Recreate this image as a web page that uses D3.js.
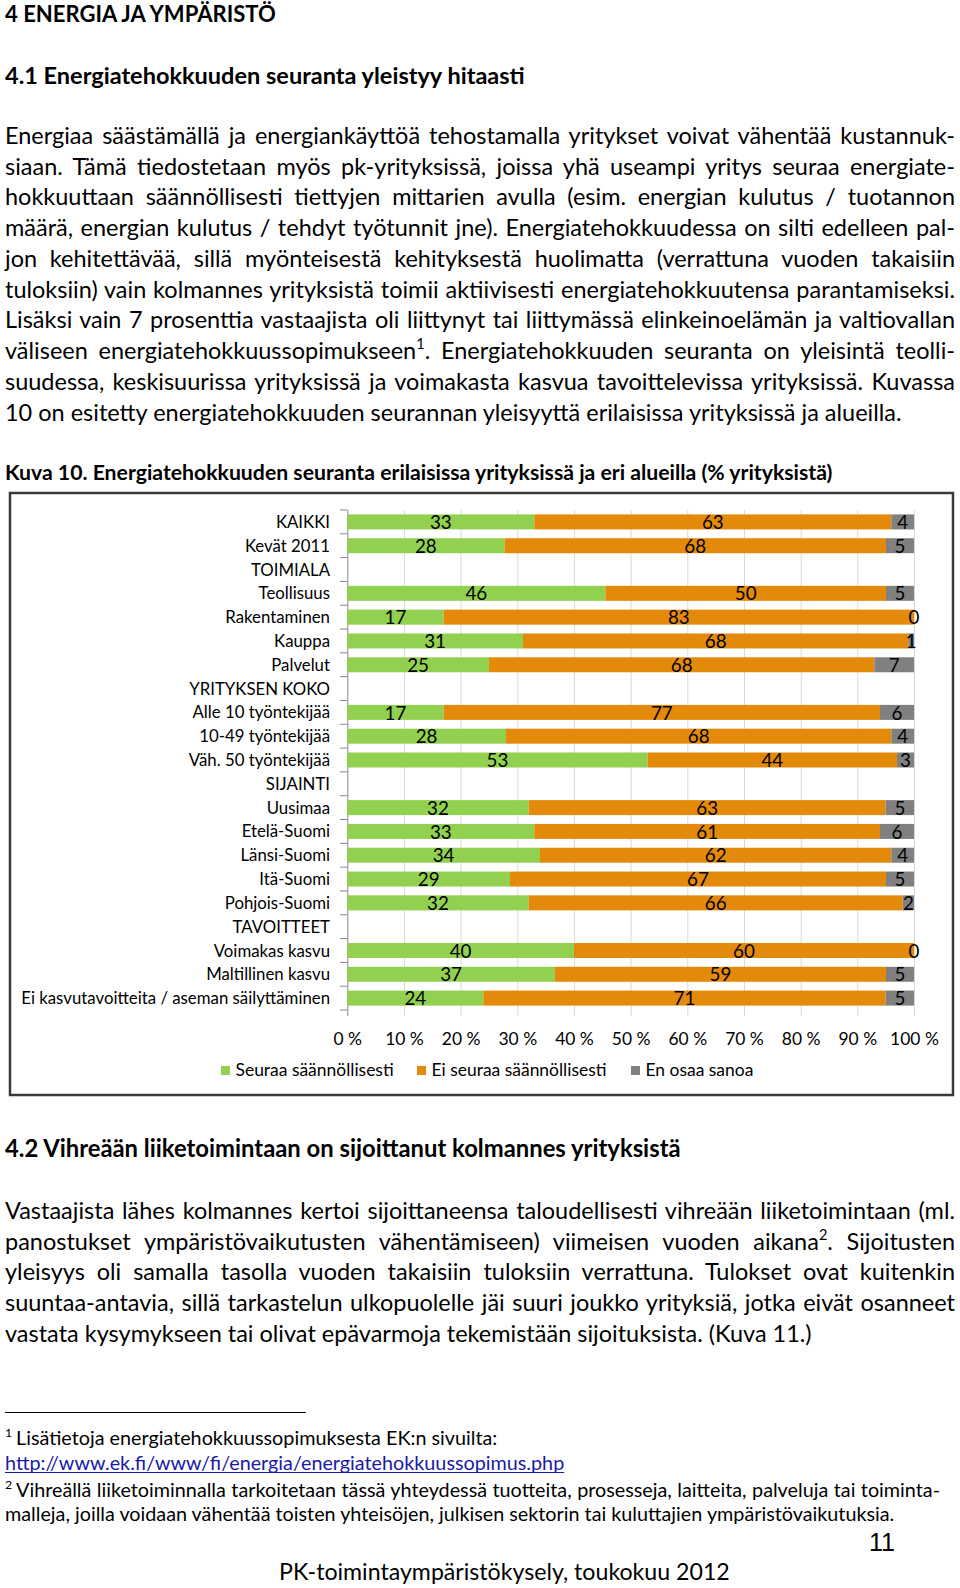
<!DOCTYPE html>
<html><head><meta charset="utf-8">
<script src="https://cdn.jsdelivr.net/npm/d3@7"></script>
<style>
body{margin:0;background:#fff;}
svg text{font-family:Lato,"Open Sans",sans-serif;fill:#000;}
</style></head><body>
<svg id="page" width="960" height="1588"></svg>
<script>
// ---------- DATA ----------
const categories = ["KAIKKI","Kevät 2011","TOIMIALA","Teollisuus","Rakentaminen","Kauppa","Palvelut",
  "YRITYKSEN KOKO","Alle 10 työntekijää","10-49 työntekijää","Väh. 50 työntekijää",
  "SIJAINTI","Uusimaa","Etelä-Suomi","Länsi-Suomi","Itä-Suomi","Pohjois-Suomi",
  "TAVOITTEET","Voimakas kasvu","Maltillinen kasvu","Ei kasvutavoitteita / aseman säilyttäminen"];
const seuraa   = [33,28,null,46,17,31,25,null,17,28,53,null,32,33,34,29,32,null,40,37,24];
const eiSeuraa = [63,68,null,50,83,68,68,null,77,68,44,null,63,61,62,67,66,null,60,59,71];
const enOsaa   = [4,5,null,5,0,1,7,null,6,4,3,null,5,6,4,5,2,null,0,5,5];
const seriesNames = ["Seuraa säännöllisesti","Ei seuraa säännöllisesti","En osaa sanoa"];
const tickValues = [0,0.1,0.2,0.3,0.4,0.5,0.6,0.7,0.8,0.9,1];
const tickLabels = ["0 %","10 %","20 %","30 %","40 %","50 %","60 %","70 %","80 %","90 %","100 %"];
const colors = ["#92D050","#E48A0B","#808080"];

// ---------- TEXT ----------
const h1 = "4 ENERGIA JA YMPÄRISTÖ";
const h2 = "4.1 Energiatehokkuuden seuranta yleistyy hitaasti";
const p1 = [
 "Energiaa säästämällä ja energiankäyttöä tehostamalla yritykset voivat vähentää kustannuk-",
 "siaan. Tämä tiedostetaan myös pk-yrityksissä, joissa yhä useampi yritys seuraa energiate-",
 "hokkuuttaan säännöllisesti tiettyjen mittarien avulla (esim. energian kulutus / tuotannon",
 "määrä, energian kulutus / tehdyt työtunnit jne). Energiatehokkuudessa on silti edelleen pal-",
 "jon kehitettävää, sillä myönteisestä kehityksestä huolimatta (verrattuna vuoden takaisiin",
 "tuloksiin) vain kolmannes yrityksistä toimii aktiivisesti energiatehokkuutensa parantamiseksi.",
 "Lisäksi vain 7 prosenttia vastaajista oli liittynyt tai liittymässä elinkeinoelämän ja valtiovallan",
 "väliseen energiatehokkuussopimukseen^1. Energiatehokkuuden seuranta on yleisintä teolli-",
 "suudessa, keskisuurissa yrityksissä ja voimakasta kasvua tavoittelevissa yrityksissä. Kuvassa",
 "10 on esitetty energiatehokkuuden seurannan yleisyyttä erilaisissa yrityksissä ja alueilla."];
const caption = "Kuva 10. Energiatehokkuuden seuranta erilaisissa yrityksissä ja eri alueilla (% yrityksistä)";
const h3 = "4.2 Vihreään liiketoimintaan on sijoittanut kolmannes yrityksistä";
const p2 = [
 "Vastaajista lähes kolmannes kertoi sijoittaneensa taloudellisesti vihreään liiketoimintaan (ml.",
 "panostukset ympäristövaikutusten vähentämiseen) viimeisen vuoden aikana^2. Sijoitusten",
 "yleisyys oli samalla tasolla vuoden takaisiin tuloksiin verrattuna. Tulokset ovat kuitenkin",
 "suuntaa-antavia, sillä tarkastelun ulkopuolelle jäi suuri joukko yrityksiä, jotka eivät osanneet",
 "vastata kysymykseen tai olivat epävarmoja tekemistään sijoituksista. (Kuva 11.)"];
const fn1 = "Lisätietoja energiatehokkuussopimuksesta EK:n sivuilta:";
const fnLink = "http://www.ek.fi/www/fi/energia/energiatehokkuussopimus.php";
const fn2 = ["Vihreällä liiketoiminnalla tarkoitetaan tässä yhteydessä tuotteita, prosesseja, laitteita, palveluja tai toiminta-",
 "malleja, joilla voidaan vähentää toisten yhteisöjen, julkisen sektorin tai kuluttajien ympäristövaikutuksia."];
const pageNo = "11";
const footer = "PK-toimintaympäristökysely, toukokuu 2012";

const svg = d3.select("#page");

function measure(str, size, weight, family) {
  const t = svg.append("text").attr("font-size", size).attr("font-weight", weight || 400)
    .text(str.replace(/\^\d/g, ""));
  if (family) t.style("font-family", family);
  const w = t.node().getComputedTextLength();
  t.remove();
  return w;
}
function fit(str, targetW, weight, family) {
  return 100 * targetW / measure(str, 100, weight, family);
}
function line(x, y, str, size, weight, justifyW, anchor) {
  const t = svg.append("text").attr("x", x).attr("y", y).attr("font-size", size)
    .attr("font-weight", weight || 400).attr("text-anchor", anchor || "start");
  const parts = str.split(/(\^\d)/).filter(s => s.length);
  let shifted = false;
  parts.forEach(p => {
    if (p[0] === "^") {
      t.append("tspan").attr("font-size", size * 0.62).attr("dy", -size * 0.42).text(p.slice(1));
      shifted = true;
    } else {
      const ts = t.append("tspan").text(p);
      if (shifted) { ts.attr("dy", size * 0.42); shifted = false; }
    }
  });
  if (justifyW) {
    const w = t.node().getComputedTextLength();
    const n = (str.match(/ /g) || []).length;
    if (n) t.style("word-spacing", ((justifyW - w) / n) + "px");
  }
  return t;
}

// headings
line(5, 21.7, h1, fit(h1, 271, 700), 700);
line(5, 84, h2, fit(h2, 520, 700), 700);
// paragraph 1
const pSize = fit(p1[9], 897, 400);
p1.forEach((s, i) => line(5, 144 + i * 30.74, s, pSize, 400, i < p1.length - 1 ? 950 : null));
line(5, 480, caption, fit(caption, 828, 700), 700);

// paragraph 2
line(5, 1157.3, h3, fit(h3, 676, 700), 700);
p2.forEach((s, i) => line(5, 1219 + i * 30.65, s, pSize, 400, i < p2.length - 1 ? 950 : null));

// footnotes
svg.append("line").attr("x1", 5).attr("x2", 306).attr("y1", 1412.5).attr("y2", 1412.5)
  .attr("stroke", "#000").attr("stroke-width", 1);
const fnSize = fit(fn2[1], 890, 400);
svg.append("text").attr("x", 5).attr("y", 1437).attr("font-size", fnSize * 0.62).text("1");
line(16, 1445, fn1, fnSize, 400);
const lk = line(5, 1470, fnLink, fnSize, 400).style("fill", "#1a1aa8");
svg.append("line").attr("x1", 5).attr("x2", 5 + lk.node().getComputedTextLength())
  .attr("y1", 1472.5).attr("y2", 1472.5).attr("stroke", "#1a1aa8").attr("stroke-width", 1.2);
svg.append("text").attr("x", 5).attr("y", 1488.5).attr("font-size", fnSize * 0.62).text("2");
line(16, 1496.7, fn2[0], fnSize, 400, 924);
line(5, 1520.7, fn2[1], fnSize, 400);

// page number & footer
svg.append("text").attr("x", 869).attr("y", 1550.5).attr("font-size", 25)
  .style("font-family", "'Liberation Sans', Arial, sans-serif").text(pageNo);
line(279, 1580, footer, fit(footer, 451, 400), 400);

// ---------- CHART ----------
svg.append("rect").attr("x", 10).attr("y", 493).attr("width", 943).attr("height", 602)
  .attr("fill", "#fff").attr("stroke", "#3a3a3a").attr("stroke-width", 2.5);

const x = d3.scaleLinear().domain([0, 1]).range([347.3, 914]);
const y = d3.scaleBand().domain(categories).range([510, 1010]).paddingInner(0.37).paddingOuter(0.185);
const cSize = fit(categories[20], 309, 400);
const nSize = cSize * 1.12;
const tSize = cSize * 1.04;

// gridlines + tick labels
const gx = svg.append("g").attr("transform", "translate(0,510)")
  .call(d3.axisBottom(x).tickValues(tickValues).tickSize(506)
    .tickFormat((d, i) => tickLabels[i]).tickPadding(29 - 0.71 * tSize));
gx.select(".domain").remove();
gx.selectAll(".tick line").attr("stroke", (d) => d === 0 ? "#868686" : "#d9d9d9").attr("stroke-width", 1);
gx.selectAll(".tick text").attr("font-size", tSize).style("font-family", "Lato, 'Open Sans', sans-serif").attr("fill", "#000");

// category axis
const gy = svg.append("g").attr("transform", "translate(347.3,0)")
  .call(d3.axisLeft(y).tickSize(0).tickPadding(17.3));
gy.select(".domain").remove();
gy.selectAll(".tick text").attr("font-size", cSize).style("font-family", "Lato, 'Open Sans', sans-serif")
  .attr("fill", "#000").attr("dy", "0.36em");
// boundary ticks
const bounds = categories.map(c => y(c) - y.step() * y.paddingInner() / 2).concat([1010]);
svg.append("g").selectAll("line").data(bounds).join("line")
  .attr("x1", 340).attr("x2", 347.3).attr("y1", d => d).attr("y2", d => d)
  .attr("stroke", "#868686").attr("stroke-width", 1);

// stacked bars
const rows = categories.map((c, i) => ({cat: c, a: seuraa[i] || 0, b: eiSeuraa[i] || 0, c2: enOsaa[i] || 0, header: seuraa[i] === null}));
const stack = d3.stack().keys(["a", "b", "c2"]).offset(d3.stackOffsetExpand);
const series = stack(rows);
const origVals = [seuraa, eiSeuraa, enOsaa];
series.forEach((s, si) => {
  const g = svg.append("g");
  const pts = s.map((d, i) => ({d, i})).filter(o => !rows[o.i].header);
  g.selectAll("rect").data(pts).join("rect")
    .attr("x", o => x(o.d[0])).attr("width", o => x(o.d[1]) - x(o.d[0]))
    .attr("y", o => y(categories[o.i])).attr("height", y.bandwidth())
    .attr("fill", colors[si]);
  g.selectAll("text").data(pts).join("text")
    .attr("x", o => (x(o.d[0]) + x(o.d[1])) / 2)
    .attr("y", o => y(categories[o.i]) + y.bandwidth() / 2)
    .attr("dy", "0.38em").attr("text-anchor", "middle").attr("font-size", nSize)
    .text(o => origVals[si][o.i]);
});

// legend
const legX = [221, 417, 631];
const lg = svg.append("g").selectAll("g").data(seriesNames).join("g");
lg.append("rect").attr("x", (d, i) => legX[i]).attr("y", 1066).attr("width", 9).attr("height", 9)
  .attr("fill", (d, i) => colors[i]);
lg.append("text").attr("x", (d, i) => legX[i] + 14.5).attr("y", 1075.7).attr("font-size", tSize).text(d => d);
</script>
</body></html>
